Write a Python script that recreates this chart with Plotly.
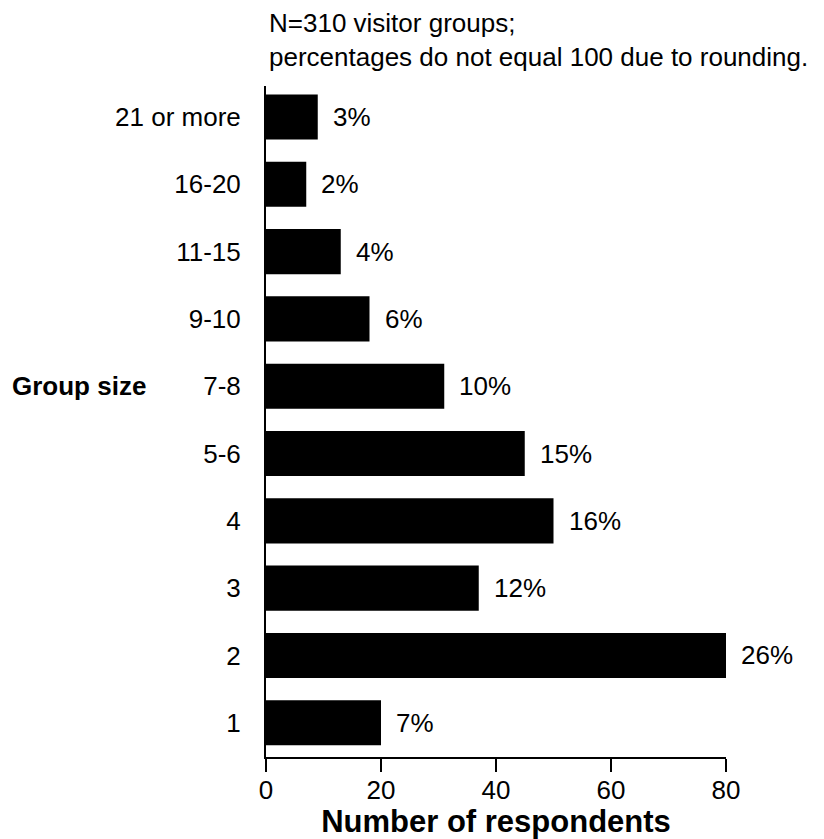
import plotly.graph_objects as go

group_sizes = ['1', '2', '3', '4', '5-6', '7-8', '9-10', '11-15', '16-20', '21 or more']
respondents = [20, 80, 37, 50, 45, 31, 18, 13, 7, 9]
percent_labels = ['7%', '26%', '12%', '16%', '15%', '10%', '6%', '4%', '2%', '3%']
x_ticks = [0, 20, 40, 60, 80]

FONT = "Liberation Sans, Arial, Helvetica, sans-serif"

fig = go.Figure(
    data=[
        go.Bar(
            x=respondents,
            y=group_sizes,
            orientation='h',
            marker=dict(color='black', line=dict(width=0)),
            hoverinfo='x+y'
        )
    ]
)

# percentage labels just past the end of each bar
# (category index used for y, since labels like '2' would be read as positions)
for idx, (count, pct) in enumerate(zip(respondents, percent_labels)):
    fig.add_annotation(
        x=count,
        y=idx,
        text=pct,
        showarrow=False,
        xanchor='left',
        xshift=13,
        font=dict(size=26, color='black', family=FONT)
    )

fig.add_annotation(
    x=-0.556,
    xref='paper',
    y=group_sizes.index('7-8'),
    text="<b>Group size</b>",
    showarrow=False,
    xanchor='left',
    font=dict(size=26, color='black', family=FONT)
)

fig.add_annotation(
    x=1 / 460,
    xref='paper',
    y=1,
    yref='paper',
    yanchor='bottom',
    yshift=12,
    xanchor='left',
    align='left',
    showarrow=False,
    text="N=310 visitor groups;<br>percentages do not equal 100 due to rounding.",
    font=dict(size=26, color='black', family=FONT)
)

# page body has an 8px margin, so the figure is 8px smaller than the window
fig.update_layout(
    width=816,
    height=831,
    margin=dict(l=258, r=98, t=78, b=82),
    paper_bgcolor='white',
    plot_bgcolor='white',
    bargap=0.33,
    showlegend=False,
    font=dict(family=FONT, size=26, color='black'),
    xaxis=dict(
        range=[0, 80],
        tickvals=x_ticks,
        ticks='outside',
        ticklen=13,
        tickwidth=2,
        tickcolor='black',
        showline=True,
        linecolor='black',
        linewidth=2,
        showgrid=False,
        zeroline=False,
        automargin=False,
        ticklabelstandoff=-4,
        title=dict(text="<b>Number of respondents</b>", standoff=2),
        tickfont=dict(size=26)
    ),
    yaxis=dict(
        type='category',
        range=[-0.508, 9.46],
        showline=True,
        linecolor='black',
        linewidth=2,
        showgrid=False,
        ticks='',
        ticklabelstandoff=18,
        automargin=False,
        tickfont=dict(size=26)
    )
)

fig.write_html("out.html")
